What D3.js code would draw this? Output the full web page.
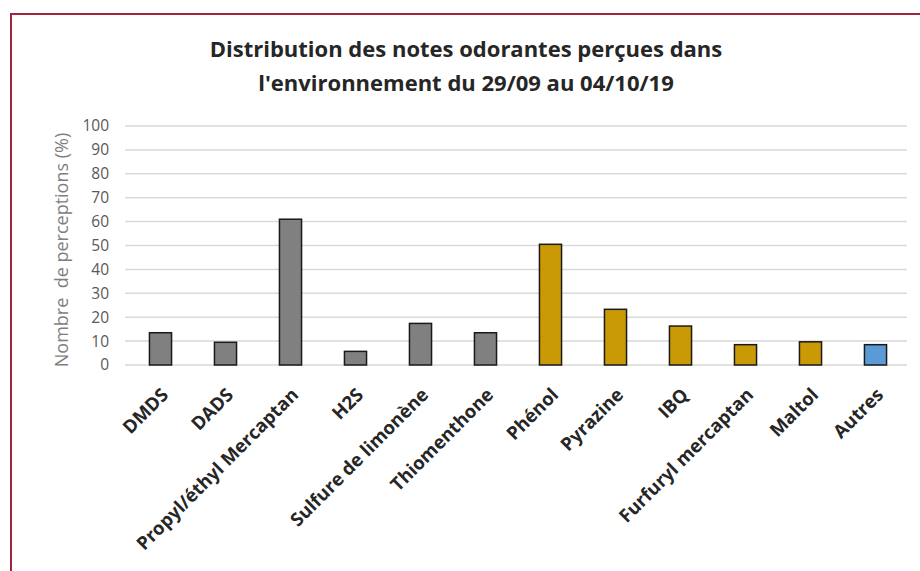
<!DOCTYPE html>
<html>
<head>
<meta charset="utf-8">
<script src="https://cdn.jsdelivr.net/npm/d3@7"></script>
<style>
  body { margin: 0; background: #fff; }
  text { font-family: "Open Sans", sans-serif; }
</style>
</head>
<body>
<div id="chart"></div>
<script>
// odour notes perceived, 29/09 -> 04/10/19
var categories = ['DMDS', 'DADS', 'Propyl/éthyl Mercaptan', 'H2S', 'Sulfure de limonène',
  'Thiomenthone', 'Phénol', 'Pyrazine', 'IBQ', 'Furfuryl mercaptan', 'Maltol', 'Autres'];
var values = [13.5, 9.5, 61, 5.7, 17.4, 13.5, 50.5, 23.3, 16.3, 8.5, 9.7, 8.5];
var groups = ['soufre', 'soufre', 'soufre', 'soufre', 'soufre', 'soufre',
  'autre', 'autre', 'autre', 'autre', 'autre', 'divers'];
var yTicks = [0, 10, 20, 30, 40, 50, 60, 70, 80, 90, 100];
var titleLines = ['Distribution des notes odorantes perçues dans',
  "l'environnement du 29/09 au 04/10/19"];

var w = 920, h = 571;
var colors = { soufre: '#808080', autre: '#c99a06', divers: '#5b9bd5' };

var svg = d3.select('#chart')
  .append('svg')
  .attr('width', w)
  .attr('height', h);

svg.append('rect')
  .attr('width', w)
  .attr('height', h)
  .style('fill', '#fff');

// frame (only top and left visible in the original crop)
svg.append('path')
  .attr('d', 'M11,' + h + 'V14H' + w)
  .style('fill', 'none')
  .style('stroke', '#a0253e')
  .style('stroke-width', 2);

var x = d3.scaleBand()
  .domain(categories)
  .range([128, 908])
  .paddingInner(0.66)
  .paddingOuter(0.33);

var y = d3.scaleLinear()
  .domain([0, 100])
  .range([365, 126]);

// gridlines
svg.append('g')
  .selectAll('line')
  .data(yTicks)
  .join('line')
  .attr('x1', 125)
  .attr('x2', 907)
  .attr('y1', d => y(d))
  .attr('y2', d => y(d))
  .style('stroke', '#d9d9d9')
  .style('stroke-width', 1.5);

var yAxis = svg.append('g')
  .attr('transform', 'translate(109,0)')
  .call(d3.axisLeft(y).tickValues(yTicks).tickSize(0).tickPadding(0));
yAxis.select('.domain').remove();
yAxis.selectAll('text')
  .style('font-size', '15.5px')
  .style('fill', '#595959');

svg.append('g')
  .selectAll('rect')
  .data(categories)
  .join('rect')
  .attr('x', d => x(d))
  .attr('width', x.bandwidth())
  .attr('y', (d, i) => y(values[i]))
  .attr('height', (d, i) => y(0) - y(values[i]))
  .style('fill', (d, i) => colors[groups[i]])
  .style('stroke', '#1a1a1a')
  .style('stroke-width', 1.5);

var xAxis = svg.append('g')
  .attr('transform', 'translate(0,' + y(0) + ')')
  .call(d3.axisBottom(x).tickSize(0).tickPadding(0));
xAxis.select('.domain').remove();
xAxis.selectAll('text')
  .attr('text-anchor', 'end')
  .attr('dy', 0)
  .attr('transform', 'translate(9,31) rotate(-45)')
  .style('font-size', '18.5px')
  .style('font-weight', 'bold')
  .style('fill', '#262626');

svg.append('text')
  .text('Nombre  de perceptions (%)')
  .attr('transform', 'translate(68,250) rotate(-90)')
  .attr('text-anchor', 'middle')
  .style('font-size', '18px')
  .style('white-space', 'pre')
  .style('fill', '#7f7f7f');

svg.append('g')
  .selectAll('text')
  .data(titleLines)
  .join('text')
  .text(d => d)
  .attr('x', 466)
  .attr('y', (d, i) => 57 + i * 34)
  .attr('text-anchor', 'middle')
  .style('font-size', '22px')
  .style('font-weight', 'bold')
  .style('fill', '#262626');
</script>
</body>
</html>
